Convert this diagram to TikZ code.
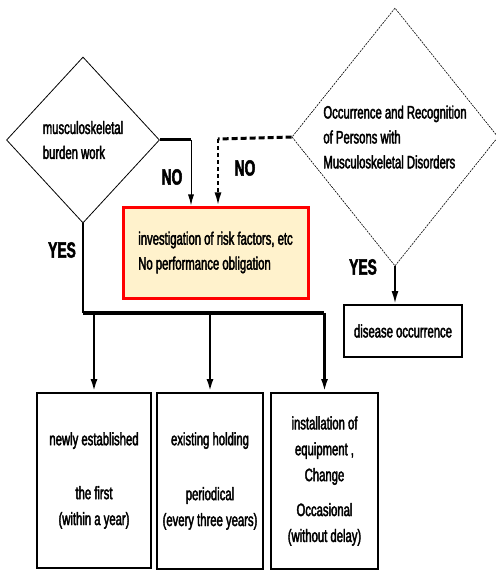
\documentclass[tikz,border=0pt]{standalone}
\usepackage{fontspec}
\setmainfont[FakeStretch=0.63, FakeBold=2.2]{Liberation Sans}
\usetikzlibrary{arrows.meta}
\usetikzlibrary{shapes}
\definecolor{notecream}{RGB}{255,242,204}
\pgfkeys{tikz/decision/.style={diamond, draw, inner sep=0pt, align=left, font=\fontsize{18}{25}\selectfont}}
\pgfkeys{tikz/stepbox/.style={draw, line width=2bp, inner sep=0pt, align=center, font=\fontsize{18}{26}\selectfont}}
\pgfkeys{tikz/answer/.style={font=\fontsize{22}{24}\selectfont\bfseries}}

\begin{document}
\begin{tikzpicture}[x=1bp, y=-1bp, >={Latex[length=13bp,width=7bp]}]
\useasboundingbox (0,0) rectangle (496,571);
\draw (83,140) node[decision, line width=0.8pt, minimum width=153bp, minimum height=166bp] (A) {musculoskeletal\\burden work};
\draw (395,137) node[decision, line width=0.6pt, dash pattern=on 2bp off 1bp, minimum width=204bp, minimum height=258bp] (B) {Occurrence and Recognition\\of Persons with\\Musculoskeletal Disorders};
\draw (215.5,252.5) node[draw=red, line width=3bp, fill=notecream, inner sep=0pt, minimum width=185bp, minimum height=91bp, align=left, font=\fontsize{18}{25}\selectfont] (C) {investigation of risk factors, etc\\No performance obligation};
\draw (403,331) node[stepbox, minimum width=118bp, minimum height=52bp] (D) {disease occurrence};
\draw (94,480.5) node[stepbox, minimum width=114bp, minimum height=175bp] (E1) {newly established\\[28bp]the first\\(within a year)};
\draw (210,481) node[stepbox, minimum width=106bp, minimum height=176bp] (E2) {existing holding\\[29bp]periodical\\(every three years)};
\draw (324.5,481) node[stepbox, minimum width=107bp, minimum height=176bp] (E3) {installation of\\equipment ,\\Change\\[9bp]Occasional\\(without delay)};
\draw (172,177) node[answer] {NO};
\draw (245,168) node[answer] {NO};
\draw (62,250) node[answer] {YES};
\draw (363,267) node[answer] {YES};
% NO branches
\coordinate (no1) at (191,140);
\coordinate (no2) at (218,139);
\draw [line width=3bp] (A.east)--(no1);
\draw [-{Latex[length=11bp,width=6bp]}, line width=1bp] (no1)--(no1 |- C.north);
\draw [line width=3bp, dash pattern=on 6bp off 3bp] (B.west)--(no2);
\draw [->, line width=2bp, dash pattern=on 4bp off 3bp] (no2)--(no2 |- C.north);
% YES branches
\coordinate (bar) at (324,313);
\draw [line width=2bp] (A.south)--(A.south |- bar);
\draw [line width=4bp] (A.south |- bar)--(bar);
\foreach \b in {E1,E2,E3}
  \draw [->, line width=2.5bp] (\b.north |- bar)--(\b.north);
\draw [->, line width=2bp] (B.south)--(B.south |- D.north);
\end{tikzpicture}
\end{document}
